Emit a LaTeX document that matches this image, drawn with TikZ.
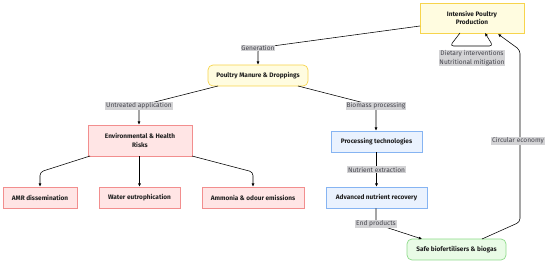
\documentclass[tikz,border=0pt]{standalone}
\usepackage{fontspec}
\setmainfont{Fira Sans}
\usetikzlibrary{calc,arrows.meta}
\definecolor{SourceFill}{HTML}{FFFCE0}
\definecolor{SourceLine}{HTML}{F7D44C}
\definecolor{RiskFill}{HTML}{FFE5E5}
\definecolor{RiskLine}{HTML}{F28E8E}
\definecolor{ProcFill}{HTML}{EAF2FE}
\definecolor{ProcLine}{HTML}{86B4F2}
\definecolor{SafeFill}{HTML}{E9FBE6}
\definecolor{SafeLine}{HTML}{8EDB8A}
\definecolor{TagFill}{HTML}{D3D3D5}
\definecolor{TagText}{HTML}{45454D}
\definecolor{Ink}{HTML}{1E1E1E}

\begin{document}
\begin{tikzpicture}[x=1cm,y=1cm,>={Latex[length=1.6mm,width=1.5mm]},
  every node/.style={text=Ink,font=\fontsize{9.2}{11}\selectfont},
  box/.style={draw,line width=1pt,minimum height=1.05cm,inner sep=2pt,align=center,font=\fontsize{9.2}{12}\selectfont\bfseries},
  source/.style={box,fill=SourceFill,draw=SourceLine},
  risk/.style={box,fill=RiskFill,draw=RiskLine},
  proc/.style={box,fill=ProcFill,draw=ProcLine},
  safe/.style={box,fill=SafeFill,draw=SafeLine,rounded corners=7pt},
  tag/.style={fill=TagFill,text=TagText,inner sep=1.2pt,align=center,font=\fontsize{9.4}{12}\selectfont},
  link/.style={->,line width=.8pt,rounded corners=5pt}]
  \useasboundingbox (0,0) rectangle (27.5,13.25);

  % Nodes.
  \node[source,minimum width=5.2cm,minimum height=1.5cm] (prod) at (23.6,12.35) {Intensive Poultry\\Production};
  \node[source,rounded corners=7pt,minimum width=5.0cm] (manure) at (12.9,9.475) {Poultry Manure \& Droppings};
  \node[risk,minimum width=5.2cm,minimum height=1.55cm] (risks) at (7.0,6.225) {Environmental \& Health\\Risks};
  \node[risk,minimum width=3.7cm] (amr) at (2.0,3.375) {AMR dissemination};
  \node[risk,minimum width=4.05cm] (water) at (6.975,3.375) {Water eutrophication};
  \node[risk,minimum width=5.1cm] (ammonia) at (12.65,3.375) {Ammonia \& odour emissions};
  \node[proc,minimum width=4.55cm] (tech) at (18.825,6.175) {Processing technologies};
  \node[proc,minimum width=5.05cm] (recovery) at (18.825,3.375) {Advanced nutrient recovery};
  \node[safe,minimum width=4.95cm] (biofert) at (22.825,0.775) {Safe biofertilisers \& biogas};

  % Connectors.
  \coordinate (genA) at (12.9,10.85);
  \coordinate (untrA) at (6.95,7.95);
  \coordinate (bioA) at (18.8,7.95);
  \coordinate (endA) at (18.8,2.05);
  \draw[link] (21.0,11.95) -- (genA) -- (manure.north);
  \draw[link] (10.9,8.95) -- (untrA) -- (risks.north-|untrA);
  \draw[link] (14.9,8.95) -- (bioA) -- (tech.north-|bioA);
  \draw[link] (23.0,11.6) -- (22.5,10.95) -- (24.65,10.95) -- (24.25,11.6);
  \draw[link] (4.5,5.45) -- (2.0,4.65) -- (amr.north);
  \draw[link] (water.north|-risks.south) -- (water.north);
  \draw[link] (9.6,5.45) -- (12.65,4.65) -- (ammonia.north);
  \draw[link] (tech.south) -- (recovery.north);
  \draw[link] (recovery.south-|endA) -- (endA) -- (21.1,1.3);
  \draw[link] (24.1,1.3) -- (26.0,2.15) -- (26.0,10.75) -- (24.9,11.55);

  % Connector labels.
  \node[tag] (genT) at (genA) {Generation};
  \node[tag] (untrT) at (untrA) {Untreated application};
  \node[tag] (bioT) at (bioA) {Biomass processing};
  \node[tag] (dietT) at (23.6,10.35) {Dietary interventions\\Nutritional mitigation};
  \node[tag] (extrT) at ($(tech.south)!.5!(recovery.north)$) {Nutrient extraction};
  \node[tag] (endT) at (endA) {End products};
  \node[tag] (circT) at (25.9,6.2) {Circular economy};
\end{tikzpicture}
\end{document}
